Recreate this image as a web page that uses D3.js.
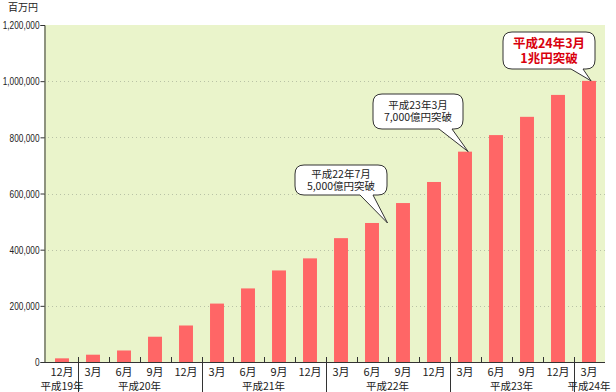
<!DOCTYPE html>
<html><head><meta charset="utf-8">
<script src="https://cdn.jsdelivr.net/npm/d3@7"></script>
<style>
html,body{margin:0;padding:0;background:#fff;}
svg{display:block;font-family:"Noto Sans CJK JP","Noto Sans",sans-serif;}
</style></head>
<body>
<svg id="chart" width="616" height="392"></svg>
<script>
const months = ["12月","3月","6月","9月","12月","3月","6月","9月","12月","3月","6月","9月","12月","3月","6月","9月","12月","3月"];
const values = [13000,26000,41000,90000,130000,208000,262000,326000,369000,441000,495000,566000,641000,749000,808000,873000,951000,1001000];
const yearLabels = ["平成19年","平成20年","平成21年","平成22年","平成23年","平成24年"];
const yearFirst = [0,1,5,9,13,17];
const yearLast  = [0,4,8,12,16,17];
const yTicks = [0,200000,400000,600000,800000,1000000,1200000];
const yUnit = "百万円";
const notes = [
  {lines:["平成22年7月","5,000億円突破"], idx:10, frac:1.0, value:495000, red:false},
  {lines:["平成23年3月","7,000億円突破"], idx:13, frac:0.73, value:749000, red:false},
  {lines:["平成24年3月","1兆円突破"], idx:17, frac:0.65, value:1001000, red:true}
];

const svg = d3.select("#chart");
const L=44, R=605, T=25, B=362;
const x = d3.scaleBand().domain(d3.range(months.length)).range([46.5,604.5]).paddingInner(0.55).paddingOuter(0.275);
const step = x.step();
const y = d3.scaleLinear().domain([0,1200000]).range([B,T]);

svg.append("rect").attr("x",L).attr("y",T).attr("width",R-L).attr("height",B-T).attr("fill","#eaf4cb");

// grid
svg.append("g").selectAll("line").data(yTicks.filter(d=>d>0&&d<1200000)).join("line")
  .attr("x1",L).attr("x2",R).attr("y1",d=>Math.round(y(d))+0.5).attr("y2",d=>Math.round(y(d))+0.5)
  .attr("stroke","#b9c2a6").attr("stroke-dasharray","1,3");

// bars
svg.append("g").selectAll("rect").data(values).join("rect")
  .attr("x",(d,i)=>x(i)).attr("width",x.bandwidth())
  .attr("y",d=>y(d)).attr("height",d=>B-y(d)).attr("fill","#ff6666");

// y axis
const yAxis = d3.axisLeft(y).tickValues(yTicks).tickSize(4).tickFormat(d3.format(","));
const ga = svg.append("g").attr("transform",`translate(${L+0.5},0)`).call(yAxis);
ga.select(".domain").attr("stroke","#333");
ga.selectAll(".tick line").attr("stroke","#333");
ga.selectAll(".tick text").attr("font-family","'Liberation Sans',Arial,sans-serif").attr("font-size",11.5).attr("fill","#222")
  .attr("x",0).attr("transform","translate(-5,0) scale(0.72,1)");

svg.append("text").attr("x",8).attr("y",11).attr("font-size",10).attr("fill","#222").text(yUnit);

// x axis line
svg.append("line").attr("x1",L).attr("x2",R).attr("y1",B+0.5).attr("y2",B+0.5).attr("stroke","#333");
// boundaries
const bounds = d3.range(1,months.length);
const yearBounds = new Set(yearFirst.slice(1));
svg.append("g").selectAll("line").data(bounds).join("line")
  .attr("x1",d=>Math.round(x(d)-x.step()*x.paddingInner()/2)+0.5)
  .attr("x2",d=>Math.round(x(d)-x.step()*x.paddingInner()/2)+0.5)
  .attr("y1",B-5).attr("y2",d=>yearBounds.has(d)?392:B)
  .attr("stroke","#333");

// month labels
svg.append("g").selectAll("text").data(months).join("text")
  .attr("x",(d,i)=>x(i)+x.bandwidth()/2).attr("y",376)
  .attr("text-anchor","middle").attr("font-size",11).attr("fill","#222").text(d=>d);
// year labels
svg.append("g").selectAll("text").data(yearLabels).join("text")
  .attr("x",(d,i)=>{const a=x(yearFirst[i])-x.step()*x.paddingInner()/2, b=x(yearLast[i])+x.bandwidth()+x.step()*x.paddingInner()/2; return (a+b)/2;})
  .attr("y",390).attr("text-anchor","middle").attr("font-size",10.5).attr("fill","#222").text(d=>d);

// callouts
const boxes = [
  {x0:295,y0:165,x1:387,y1:195,b0:360,b1:373},
  {x0:373,y0:94,x1:463,y1:129,b0:439,b1:452},
  {x0:503,y0:32,x1:595,y1:69,b0:571,b1:583}
];
notes.forEach((n,k)=>{
  const bx=boxes[k], r=9;
  const tx = x(n.idx)+x.bandwidth()*n.frac+ (n.idx===10?(step-x.bandwidth())/2:0), ty=y(n.value);
  const p = `M${bx.x0+r},${bx.y0}H${bx.x1-r}Q${bx.x1},${bx.y0} ${bx.x1},${bx.y0+r}V${bx.y1-r}Q${bx.x1},${bx.y1} ${bx.x1-r},${bx.y1}H${bx.b1}L${tx},${ty}L${bx.b0},${bx.y1}H${bx.x0+r}Q${bx.x0},${bx.y1} ${bx.x0},${bx.y1-r}V${bx.y0+r}Q${bx.x0},${bx.y0} ${bx.x0+r},${bx.y0}Z`;
  svg.append("path").attr("d",p).attr("fill","#fff").attr("stroke","#333").attr("stroke-width",1);
  const cx=(bx.x0+bx.x1)/2, cy=(bx.y0+bx.y1)/2;
  const fs = n.red?12.5:10.5, lh = n.red?15:12;
  const t = svg.append("text").attr("text-anchor","middle").attr("font-size",fs)
      .attr("font-weight",n.red?"bold":"normal")
      .attr("fill",n.red?"#d9000d":"#222");
  n.lines.forEach((s,j)=>{
    t.append("tspan").attr("x",cx).attr("y",cy+(j-0.5)*lh+fs*0.36).text(s);
  });
});
</script>
</body></html>
